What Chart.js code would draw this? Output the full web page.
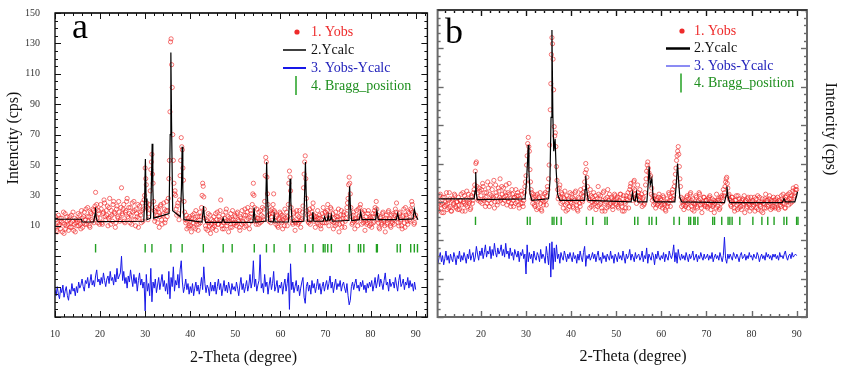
<!DOCTYPE html>
<html>
<head>
<meta charset="utf-8">
<script src="https://cdn.jsdelivr.net/npm/chart.js@4/dist/chart.umd.min.js"></script>
<style>
  html, body { margin: 0; padding: 0; background: #fff; }
  #wrap { position: relative; width: 841px; height: 378px; overflow: hidden; }
  canvas { position: absolute; top: 0; }
  #ca { left: 0; }
  #cb { left: 432px; }
</style>
</head>
<body>
<div id="wrap">
  <canvas id="ca" width="433" height="378"></canvas>
  <canvas id="cb" width="409" height="378"></canvas>
</div>
<script>
// ---------- scan grids (2-Theta, degrees) ----------
const scanStart = 10;
const obsStep = 0.125;
const diffStep = 0.25;

// ---------- tick labels ----------
const aXTickLabels = [10, 20, 30, 40, 50, 60, 70, 80, 90];
const bXTickLabels = [20, 30, 40, 50, 60, 70, 80, 90];
const aYTickLabels = [10, 30, 50, 70, 90, 110, 130, 150];

// ---------- legend / names ----------
const legendLabels = ['1. Yobs', '2.Ycalc', '3. Yobs-Ycalc', '4. Bragg_position'];
const panelNames = ['a', 'b'];

// ---------- panel a ----------
const aObs = [
  9,16,14,7,6,12,17,10,11,15,8,13,15,6,12,19,5,11,18,8,10,16,13,11,7,14,16,9,12,17,9,13,19,7,11,15,6,12,14,10,
  13,18,10,14,17,11,8,20,15,9,12,16,19,11,14,21,11,16,22,13,16,10,9,19,18,14,13,21,20,12,17,23,32,21,24,15,12,20,18,11,
  15,24,21,12,11,18,19,27,25,16,14,20,17,23,10,15,22,28,16,11,20,17,13,24,26,19,18,9,12,21,23,16,15,26,19,13,14,22,35,18,
  17,21,24,13,12,19,20,26,28,16,15,22,18,12,22,17,11,25,19,14,26,20,14,10,21,18,16,24,9,15,23,19,17,12,20,25,13,21,27,30,
  48,41,37,25,22,14,18,21,24,33,47,52,57,44,38,26,20,13,15,19,22,17,12,21,19,9,16,23,24,14,11,17,18,25,21,12,14,20,26,16,
  20,28,41,53,85,131,133,116,101,70,53,38,31,33,30,21,17,23,25,18,14,27,43,53,68,62,60,48,40,26,19,14,12,17,8,13,15,9,10,16,
  13,10,6,15,17,12,9,18,14,8,20,13,11,16,7,11,16,19,12,16,22,30,38,36,29,21,15,10,8,14,13,7,18,12,10,17,5,11,14,8,
  9,13,16,10,12,18,7,14,19,11,11,16,14,20,27,13,10,8,17,12,8,15,13,19,21,10,12,16,6,13,15,9,18,14,9,20,14,12,11,17,
  16,12,10,18,19,14,13,9,7,16,15,11,20,13,12,17,9,21,17,10,14,19,22,15,11,8,16,20,18,13,24,31,38,30,22,16,13,11,21,15,
  15,11,19,14,12,20,17,13,22,16,14,21,26,43,55,52,42,31,24,17,13,18,20,12,16,21,18,24,31,20,19,13,11,16,17,10,9,15,14,19,
  18,13,12,17,8,14,16,10,21,15,13,19,10,16,24,38,46,42,33,22,15,12,11,18,19,13,7,12,14,20,17,11,12,16,20,13,9,14,15,19,
  23,35,44,52,56,41,28,20,17,13,12,18,21,11,14,16,19,22,25,17,13,16,9,14,16,12,20,15,11,17,15,10,8,14,18,12,22,16,12,19,
  19,12,14,20,24,17,10,15,17,22,21,13,13,18,8,12,15,10,19,16,11,14,16,21,6,11,14,17,20,9,12,15,17,19,9,13,15,18,22,25,
  28,37,42,38,31,22,16,11,12,17,19,13,8,14,15,20,13,10,21,16,17,22,24,15,11,19,18,12,14,20,7,13,16,11,12,18,20,14,10,16,
  15,11,9,16,18,12,13,20,22,18,26,21,17,14,12,9,8,15,16,12,11,18,19,13,14,10,6,15,17,11,12,19,20,14,15,10,9,17,13,12,
  18,14,11,17,21,19,25,15,16,12,10,18,19,13,14,10,8,16,17,21,12,9,22,17,15,13,11,19,18,14,13,21,20,26,24,19,16,11,12,15,
  17
];
const aCalcX = [10,15.9,16.0,18.6,18.9,19.0,19.1,19.4,29.7,29.9,30.05,30.2,30.4,31.2,31.4,31.55,31.7,31.9,
  35.3,35.55,35.7,35.85,36.1,37.8,38.05,38.2,38.35,38.6,42.6,42.85,42.95,43.1,43.4,47.0,47.3,47.6,
  53.9,54.15,54.4,56.6,56.8,56.95,57.1,57.4,58.4,58.6,58.8,61.8,62.0,62.15,62.3,62.6,
  65.2,65.4,65.55,65.7,66.0,67.0,67.2,67.4,69.5,69.8,70.1,70.4,70.6,70.8,71.1,71.3,71.5,
  75.0,75.2,75.35,75.5,75.8,77.5,77.8,78.1,81.1,81.4,81.7,85.7,86.0,86.3,89.4,89.7,90.0,90.5];
const aCalcY = [14.3,14.3,12.5,12.6,18,22,16,12.7,13,30,54,28,14,15,40,64,35,15,
  18,70,124,78,20,16,35,62,34,14,12.5,20,23,17,12.3,12.3,15,12.2,
  12.3,22,12.5,13,32,52,30,13,12.5,17,12.5,12.6,28,41,26,12.6,
  13,35,52,32,13,13,19,13,13,16,13.2,13.5,17,13.5,14,17,13,
  13.5,26,36,24,13.5,14,19,14,14,20,14,14,18,14,14.5,21,17,14];
const aDiff = [
  -32,-36,-30,-35,-38,-31,-34,-29,-37,-33,-30,-36,-39,-32,-35,-28,-33,-31,-36,-30,
  -34,-27,-31,-29,-25,-30,-33,-26,-28,-24,-31,-27,-22,-29,-26,-30,-23,-19,-27,-25,
  -29,-24,-28,-21,-26,-30,-25,-23,-28,-20,-26,-24,-29,-22,-27,-18,-25,-23,-21,-10,
  -26,-20,-28,-24,-31,-23,-27,-19,-25,-30,-22,-28,-24,-33,-26,-21,-29,-25,-31,-27,
  -46,-22,-33,-28,-36,-18,-40,-27,-31,-25,-34,-29,-24,-32,-27,-22,-30,-26,-33,-28,
  -35,-20,-38,-24,-30,-17,-33,-26,-29,-22,-31,-19,-13,-27,-34,-30,-25,-32,-28,-35,
  -30,-34,-28,-36,-31,-27,-33,-29,-35,-30,-24,-32,-17,-28,-34,-29,-31,-36,-27,-33,
  -29,-33,-27,-35,-30,-25,-32,-28,-36,-31,-26,-33,-29,-34,-27,-31,-35,-28,-32,-30,
  -33,-27,-31,-36,-29,-24,-32,-28,-34,-30,-26,-33,-29,-22,-31,-27,-13,-30,-25,-33,
  -29,-26,-9,-31,-28,-34,-22,-30,-27,-35,-29,-24,-32,-28,-20,-33,-30,-26,-34,-29,
  -31,-27,-35,-29,-25,-33,-28,-21,-45,-15,-32,-27,-34,-30,-26,-33,-29,-36,-31,-27,
  -24,-37,-41,-30,-27,-33,-29,-35,-26,-31,-28,-34,-30,-25,-32,-28,-35,-30,-27,-33,
  -29,-26,-32,-28,-23,-31,-27,-34,-29,-25,-32,-28,-30,-26,-33,-29,-27,-31,-34,-28,
  -36,-42,-39,-30,-27,-32,-28,-25,-31,-29,-33,-27,-30,-26,-32,-29,-34,-28,-31,-27,
  -30,-26,-33,-29,-24,-31,-27,-22,-30,-25,-28,-32,-26,-21,-29,-27,-33,-25,-30,-28,
  -27,-31,-24,-29,-33,-26,-22,-30,-28,-25,-32,-27,-29,-24,-31,-26,-30,-28,-33,-27,
  -32
];
const aBragg = [19.0,30.0,31.5,35.7,38.2,42.9,47.3,49.3,54.2,56.9,58.6,62.1,65.5,67.2,69.5,69.9,70.5,71.3,
  75.3,77.3,77.8,78.5,81.3,81.5,85.9,86.6,88.9,89.7,90.4];

// ---------- panel b ----------
const bObs = [
  22,26,27,20,19,24,25,29,30,23,21,18,24,28,18,22,28,25,23,31,20,24,26,21,31,27,22,19,19,26,27,23,24,30,29,22,21,25,25,20,
  28,23,20,26,26,30,23,19,31,25,24,29,19,23,27,32,22,26,30,24,25,20,21,29,28,24,26,31,33,36,45,50,51,35,31,26,27,34,32,25,
  29,33,24,37,35,26,27,31,22,28,31,24,38,34,26,22,30,36,24,29,33,27,28,39,21,25,36,31,29,23,25,34,32,28,40,26,27,35,30,24,
  34,28,26,31,29,36,23,27,31,25,37,30,27,22,24,33,30,26,22,28,28,24,33,29,25,31,29,23,21,27,27,24,32,30,24,22,26,31,35,38,
  42,49,55,63,67,61,58,46,38,33,31,27,24,30,28,23,22,29,26,20,30,25,21,28,27,31,24,20,19,26,28,23,25,30,31,26,23,29,35,33,
  40,49,62,85,102,121,132,128,118,98,74,68,70,61,48,39,33,27,29,34,36,28,24,31,30,25,21,28,27,32,23,19,29,24,20,27,26,22,31,25,
  24,30,28,22,21,27,26,31,32,25,23,20,19,28,27,24,22,33,30,26,25,31,29,34,38,44,50,46,41,35,30,27,26,21,33,29,22,25,28,23,
  31,26,24,29,20,25,27,22,35,30,23,27,29,24,21,19,26,31,32,24,19,27,25,21,28,33,22,26,30,23,24,28,27,22,20,25,26,30,29,24,
  23,27,28,22,21,26,25,30,30,24,22,19,27,29,19,25,24,21,29,27,26,31,21,28,33,35,37,31,28,26,34,38,39,33,30,27,24,29,36,31,
  29,26,33,28,25,30,22,27,28,23,24,31,36,40,45,49,51,47,44,41,39,42,30,34,26,29,23,27,29,24,21,26,27,23,24,28,30,25,22,27,
  26,23,21,29,28,24,23,20,19,25,27,22,24,31,30,26,22,28,26,31,33,27,29,35,38,43,47,52,55,58,61,56,48,40,35,28,22,25,27,23,
  20,25,26,22,23,28,29,24,21,27,25,30,31,26,22,20,27,24,19,23,24,29,28,22,21,25,26,31,30,27,23,21,18,24,25,28,28,23,22,26,
  26,22,21,27,24,28,29,23,20,25,27,22,23,26,18,24,25,21,30,26,22,27,26,20,21,28,24,29,28,25,33,29,31,35,38,40,41,37,34,29,
  30,27,26,23,22,28,28,25,24,21,19,26,26,29,23,20,29,24,21,27,25,22,20,26,27,23,24,29,18,25,26,21,22,27,28,24,23,19,25,28,
  21,25,26,22,23,28,19,24,27,21,24,29,20,25,28,23,22,19,25,27,18,24,24,21,27,30,21,26,26,22,23,27,29,24,20,26,25,21,22,28,
  26,22,21,27,24,25,28,21,20,26,25,23,22,29,27,24,30,26,24,21,21,28,29,25,26,30,23,27,31,24,27,29,25,32,34,28,29,31,33,35,
  33
];
const bCalcX = [10,18.5,18.7,18.85,19.0,19.2,29.8,30.1,30.35,30.5,30.65,30.9,31.3,35.0,35.3,35.55,35.75,35.95,36.15,36.45,36.7,37.0,37.5,
  43.0,43.1,43.25,43.45,43.8,53.3,53.6,53.9,54.2,54.5,54.8,56.8,57.1,57.3,57.55,57.9,58.2,58.6,
  63.0,63.3,63.6,63.85,64.1,64.5,74.0,74.35,74.55,74.8,75.2,86.8,87.2,87.5,89.6,90.0,90.2];
const bCalcY = [27,27,32,44.5,30,26.5,27,38,52,62,45,30,26,27,38,80,137,82,58,66,45,30,26,
  26,33,42,33,26,25,31,26,25.5,31,25,25,37,48,36,40,27,25,
  25,36,50,38,28,25,24.5,29,35,28,24.5,24.5,27,25,25,29,31.6];
const bDiff = [
  -13,-9,-15,-11,-8,-14,-10,-16,-12,-7,-13,-10,-15,-9,-12,-14,-8,-11,-16,-10,
  -12,-7,-14,-10,-13,-8,-11,-15,-9,-12,-6,-13,-10,-8,-14,-11,-4,-9,-13,-7,
  -10,-5,-12,-8,-3,-11,-7,-9,-4,-12,-6,-10,-2,-8,-11,-5,-9,-7,-3,-10,
  -6,-11,-2,-9,-7,-12,-5,-10,-8,-13,-6,-9,-11,-7,-14,-8,-10,-6,-12,-9,
  -22,-3,-14,-8,-12,-9,-15,-7,-11,-13,-8,-10,-14,-6,-12,-9,-11,-15,-4,-10,
  -16,-2,-24,-1,-19,-5,-14,-3,-12,-9,-15,-8,-11,-13,-7,-10,-14,-9,-12,-8,
  -11,-14,-8,-12,-10,-15,-9,-13,-7,-11,-14,-8,-4,-17,-10,-12,-9,-13,-11,-8,
  -12,-9,-14,-10,-7,-13,-11,-15,-8,-12,-10,-14,-9,-11,-13,-7,-12,-10,-15,-9,
  -11,-14,-8,-12,-10,-13,-7,-11,-15,-9,-12,-10,-6,-13,-9,-11,-14,-8,-12,-10,
  -9,-13,-11,-7,-14,-10,-12,-5,-15,-9,-11,-13,-8,-10,-16,-9,-12,-7,-11,-13,
  -10,-12,-8,-14,-9,-11,-13,-7,-10,-12,-9,-3,-14,-8,-15,-6,-11,-13,-9,-12,
  -10,-13,-8,-11,-14,-9,-12,-10,-7,-13,-11,-9,-14,-10,-12,-8,-11,-13,-9,-12,
  -11,-9,-13,-10,-12,-8,-14,-11,-9,-12,-10,-13,-8,-11,-14,-10,2,-12,-15,-9,
  -12,-9,-11,-13,-8,-10,-12,-9,-11,-14,-10,-8,-12,-11,-9,-13,-10,-12,-8,-11,
  -10,-13,-9,-11,-12,-8,-10,-14,-11,-9,-12,-10,-13,-8,-11,-9,-12,-10,-13,-9,
  -11,-9,-12,-10,-13,-8,-11,-10,-12,-9,-7,-11,-13,-10,-9,-12,-8,-11,-10,-9,
  -10
];
const bBragg = [18.8,30.3,30.9,35.8,36.2,36.8,37.8,43.4,44.8,47.5,48.0,54.1,54.8,57.3,57.9,58.9,62.8,64.0,
  66.1,66.5,67.2,67.5,68.1,71.4,71.8,73.4,74.8,75.2,75.7,77.4,80.3,82.3,83.6,85.0,87.2,87.8,90.0,90.3];

// ---------- styling / layout (not data) ----------
const FONT = '"Liberation Serif", "Times New Roman", serif';
const RED = '#ee2a2a', BLUE = '#1818e8', GREEN = '#22a022';
const braggLevelA = -4.8, braggLevelB = 12.6;

const scan = (arr, step) => arr.map((v, i) => ({ x: scanStart + i * step, y: v }));
const pairs = (xs, ys) => xs.map((x, i) => ({ x: x, y: ys[i] }));
const bragg = (xs, lvl) => xs.map(x => ({ x: x, y: lvl }));

function datasets(obs, cx, cy, diff, br, lvl) {
  return [
    { label: legendLabels[1], data: pairs(cx, cy), borderColor: '#000', borderWidth: 1.2,
      pointRadius: 0, showLine: true, tension: 0, order: 0 },
    { label: legendLabels[0], data: scan(obs, obsStep), showLine: false, pointStyle: 'circle',
      pointRadius: 2.1, borderWidth: 0.8, borderColor: 'rgba(240,36,36,0.8)',
      backgroundColor: 'rgba(255,255,255,0)', order: 1 },
    { label: legendLabels[2], data: scan(diff, diffStep), borderColor: BLUE, borderWidth: 1,
      pointRadius: 0, showLine: true, tension: 0, order: 2 },
    { label: legendLabels[3], data: bragg(br, lvl), showLine: false, pointStyle: 'line',
      rotation: 90, pointRadius: 4.2, borderWidth: 1.4, borderColor: GREEN, order: 3 }
  ];
}

function decor(cfg) {
  return {
    id: 'decor' + cfg.name,
    afterDraw(chart) {
      const ctx = chart.ctx, ca = chart.chartArea, xs = chart.scales.x, ys = chart.scales.y;
      ctx.save();
      ctx.lineWidth = cfg.tickWidth;
      const seg = (x1, y1, x2, y2) => { ctx.beginPath(); ctx.moveTo(x1, y1); ctx.lineTo(x2, y2); ctx.stroke(); };
      // x ticks (bottom & top, inward)
      for (let i = 0; ; i++) {
        const v = cfg.xMinorFrom + i * 2;
        if (v > xs.max) break;
        const p = Math.round(xs.getPixelForValue(v)) + 0.5;
        const len = (v % 10 === 0) ? 6 : 3;
        ctx.strokeStyle = cfg.frameColor;
        seg(p, ca.bottom, p, ca.bottom - len);
        ctx.strokeStyle = cfg.topColor;
        seg(p, ca.top, p, ca.top + len);
      }
      // y ticks (left & right, inward)
      ctx.strokeStyle = cfg.frameColor;
      for (let v = -50; v <= 150; v += 5) {
        const p = Math.round(ys.getPixelForValue(v)) + 0.5;
        const len = ((v - cfg.yMajorBase) % cfg.yMajorStep === 0) ? 6 : 3;
        seg(ca.left, p, ca.left + len, p);
        seg(ca.right, p, ca.right - len, p);
      }
      // frame
      ctx.lineWidth = cfg.frameWidth;
      ctx.strokeRect(ca.left, ca.top, ca.right - ca.left, ca.bottom - ca.top);
      ctx.strokeStyle = cfg.topColor; ctx.lineWidth = 1.2;
      seg(ca.left, ca.top, ca.right, ca.top);

      // panel letter
      ctx.fillStyle = '#000';
      ctx.font = '36px ' + FONT;
      ctx.textBaseline = 'alphabetic';
      ctx.textAlign = 'left';
      ctx.fillText(cfg.name, cfg.letter[0], cfg.letter[1]);

      // legend
      const L = cfg.legend;
      ctx.font = '14px ' + FONT;
      ctx.textBaseline = 'middle';
      const colors = [RED, '#111', '#2222bb', '#1f8f1f'];
      legendLabels.forEach((t, i) => {
        ctx.fillStyle = colors[i];
        ctx.fillText(t, L.tx, L.y0 + i * L.dy);
      });
      ctx.fillStyle = RED;
      ctx.beginPath(); ctx.arc(L.mx, L.y0, 2.6, 0, Math.PI * 2); ctx.fill();
      ctx.strokeStyle = '#000'; ctx.lineWidth = L.calcW;
      seg(L.lx1, L.y0 + L.dy, L.lx2, L.y0 + L.dy);
      ctx.strokeStyle = BLUE; ctx.lineWidth = L.diffW;
      seg(L.lx1, L.y0 + 2 * L.dy, L.lx2, L.y0 + 2 * L.dy);
      ctx.strokeStyle = GREEN; ctx.lineWidth = 1.5;
      seg(L.mx - 1, L.y0 + 3 * L.dy - 10, L.mx - 1, L.y0 + 3 * L.dy + 9);

      // axis titles
      ctx.fillStyle = '#111';
      ctx.font = '16px ' + FONT;
      ctx.textAlign = 'center';
      ctx.textBaseline = 'middle';
      ctx.fillText('2-Theta (degree)', cfg.xTitle[0], cfg.xTitle[1]);
      ctx.save();
      ctx.translate(cfg.yTitle[0], cfg.yTitle[1]);
      ctx.rotate(cfg.yTitle[2]);
      ctx.fillText('Intencity (cps)', 0, 0);
      ctx.restore();
      ctx.restore();
    }
  };
}

function xScale(min, max, labels) {
  return {
    type: 'linear', min: min, max: max,
    grid: { display: false }, border: { display: false },
    afterFit: s => { s.height = 61; },
    afterBuildTicks: s => { s.ticks = labels.map(v => ({ value: v })); },
    ticks: { padding: 3, color: '#333', font: { family: FONT, size: 10 }, maxRotation: 0, autoSkip: false }
  };
}

// ---------- chart a ----------
new Chart(document.getElementById('ca'), {
  type: 'scatter',
  data: { datasets: datasets(aObs, aCalcX, aCalcY, aDiff, aBragg, braggLevelA) },
  options: {
    responsive: false, animation: false,
    layout: { padding: { top: 10, right: 1, left: 0, bottom: 0 } },
    plugins: { legend: { display: false }, tooltip: { enabled: false } },
    scales: {
      x: xScale(10, 92.6, aXTickLabels),
      y: {
        type: 'linear', min: -50, max: 150,
        grid: { display: false }, border: { display: false },
        afterFit: s => { s.width = 55; },
        afterBuildTicks: s => { s.ticks = aYTickLabels.map(v => ({ value: v })); },
        ticks: { padding: 7, color: '#333', font: { family: FONT, size: 10 } }
      }
    }
  },
  plugins: [decor({
    name: panelNames[0], frameColor: '#111', topColor: '#111', tickWidth: 1, frameWidth: 1.4,
    xMinorFrom: 10, yMajorBase: -50, yMajorStep: 20,
    letter: [72, 38],
    legend: { mx: 297, tx: 311, y0: 32, dy: 18, lx1: 283, lx2: 306, calcW: 1.5, diffW: 2 },
    xTitle: [243.5, 358],
    yTitle: [14, 138, -Math.PI / 2]
  })]
});

// ---------- chart b ----------
new Chart(document.getElementById('cb'), {
  type: 'scatter',
  data: { datasets: datasets(bObs, bCalcX, bCalcY, bDiff, bBragg, braggLevelB) },
  options: {
    responsive: false, animation: false,
    layout: { padding: { top: 10, right: 34, left: 0, bottom: 0 } },
    plugins: { legend: { display: false }, tooltip: { enabled: false } },
    scales: {
      x: xScale(10.4, 92.3, bXTickLabels),
      y: { type: 'linear', min: -50, max: 150, display: false }
    }
  },
  plugins: [decor({
    name: panelNames[1], frameColor: '#6a6a6a', topColor: '#111', tickWidth: 1.4, frameWidth: 2,
    xMinorFrom: 12, yMajorBase: -50, yMajorStep: 25,
    letter: [13, 43],
    legend: { mx: 250, tx: 262, y0: 31, dy: 17.5, lx1: 234, lx2: 258, calcW: 2.5, diffW: 1 },
    xTitle: [201, 357],
    yTitle: [398, 129, Math.PI / 2]
  })]
});
</script>
</body>
</html>
